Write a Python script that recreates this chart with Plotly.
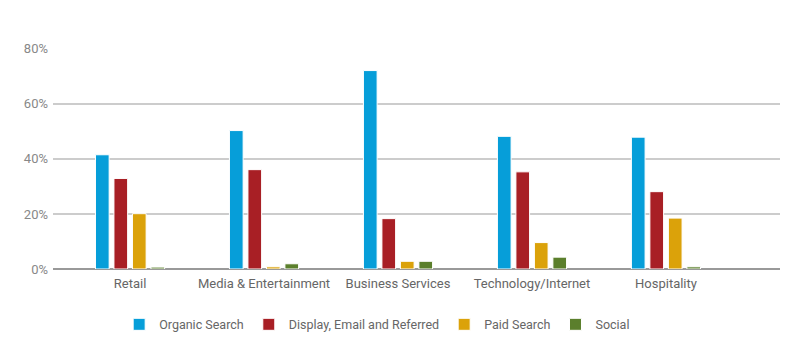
import plotly.graph_objects as go

categories = ["Retail", "Media & Entertainment", "Business Services", "Technology/Internet", "Hospitality"]
organic_search = [41.5, 50.3, 72.1, 48.2, 47.9]
display_email_referred = [32.9, 36.1, 18.3, 35.3, 28.1]
paid_search = [20.1, 0.8, 2.8, 9.6, 18.5]
social = [0.7, 1.9, 2.8, 4.3, 0.8]
y_tick_values = [0, 20, 40, 60, 80]
y_tick_labels = ["0%", "20%", "40%", "60%", "80%"]

series = [
    ("Organic Search", organic_search, "#069ed9"),
    ("Display, Email and Referred", display_email_referred, "#a81f25"),
    ("Paid Search", paid_search, "#dba20a"),
    ("Social", social, "#5b7f2c"),
]

FONT = "Roboto, sans-serif"

fig = go.Figure()
for name, vals, col in series:
    fig.add_trace(go.Bar(
        x=categories, y=vals, name=name,
        marker=dict(color=col, line=dict(color="white", width=1)),
    ))

# page body has an 8px default margin, so the figure is 803x347
fig.update_layout(
    width=803, height=347,
    margin=dict(l=45, r=31, t=40, b=85.5),
    paper_bgcolor="white", plot_bgcolor="white",
    barmode="group", bargap=0.448, bargroupgap=0.26,
    font=dict(family=FONT, size=12, color="#777"),
    showlegend=True,
    legend=dict(orientation="h", x=0.091, xanchor="left", y=-0.252, yanchor="middle",
                font=dict(family=FONT, size=12.5, color="#666"), traceorder="normal"),
    xaxis=dict(range=[-0.575, 4.851], showgrid=False, showline=False, ticks="",
               ticklabelstandoff=5,
               tickfont=dict(family=FONT, size=13, color="#666")),
    yaxis=dict(range=[0, 80.3], tickmode="array", tickvals=y_tick_values, ticktext=y_tick_labels,
               showgrid=True, gridcolor="#cccccc", gridwidth=2,
               zeroline=True, zerolinecolor="#999999", zerolinewidth=2,
               showline=False, ticks="", ticklabelstandoff=4,
               tickfont=dict(family=FONT, size=13, color="#888")),
)

fig.write_html("out.html")
